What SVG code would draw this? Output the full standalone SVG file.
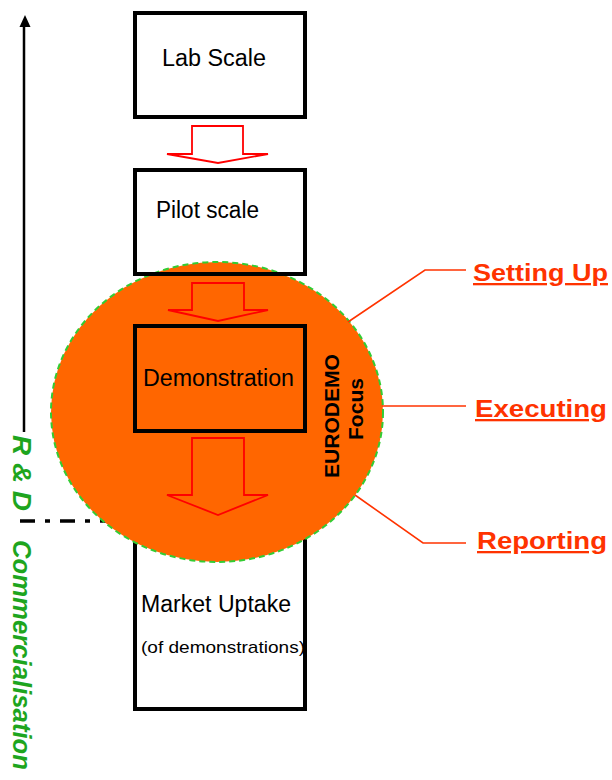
<svg xmlns="http://www.w3.org/2000/svg" width="612" height="780" viewBox="0 0 612 780">
<style>
.box{fill:none;stroke:#000;stroke-width:4}
.lbl{font-family:"Liberation Sans",Arial,sans-serif;font-size:23px;fill:#000}
.flow{fill:none;stroke:#ff0000;stroke-width:1.8;stroke-linejoin:miter}
.conn{fill:none;stroke:#ff3300;stroke-width:1.6}
.phase{font-family:"Liberation Sans",Arial,sans-serif;font-size:23px;font-weight:bold;fill:#ff3300;text-decoration:underline}
.axis{font-family:"Liberation Sans",Arial,sans-serif;font-size:26px;font-weight:bold;font-style:italic;fill:#1ea51e}
.focus{font-family:"Liberation Sans",Arial,sans-serif;font-size:21px;font-weight:bold;fill:#000}
</style>
<rect width="612" height="780" fill="#fff"/>

<g id="axis">
  <line x1="24" y1="26" x2="24" y2="432" stroke="#000" stroke-width="2.5"/>
  <polygon points="25,15 19.5,27 30.5,27" fill="#000"/>
  <line x1="20" y1="521" x2="116" y2="521" stroke="#000" stroke-width="3.5" stroke-dasharray="15 10 5 10"/>
  <text class="axis" transform="translate(13,473) rotate(90)" text-anchor="middle" textLength="76" lengthAdjust="spacingAndGlyphs">R &amp; D</text>
  <text class="axis" transform="translate(13,540) rotate(90)" textLength="230" lengthAdjust="spacingAndGlyphs">Commercialisation</text>
</g>

<g id="market">
  <rect class="box" x="135" y="490" width="170" height="219" stroke-width="3.5"/>
  <text class="lbl" x="141" y="612" textLength="150" lengthAdjust="spacingAndGlyphs">Market Uptake</text>
  <text class="lbl" x="141" y="653" style="font-size:17px" textLength="164" lengthAdjust="spacingAndGlyphs">(of demonstrations)</text>
</g>

<g id="lab">
  <rect class="box" x="135" y="13" width="170" height="104" fill="#fff"/>
  <text class="lbl" x="162" y="66" textLength="104" lengthAdjust="spacingAndGlyphs">Lab Scale</text>
</g>

<g id="focus">
  <ellipse cx="217" cy="412" rx="166" ry="150" fill="#ff6600" stroke="#33cc33" stroke-width="2" stroke-dasharray="6 4"/>
  <text class="focus" transform="translate(339,416) rotate(-90)" text-anchor="middle" textLength="124" lengthAdjust="spacingAndGlyphs">EURODEMO</text>
  <text class="focus" transform="translate(363,409) rotate(-90)" text-anchor="middle" textLength="62" lengthAdjust="spacingAndGlyphs">Focus</text>
</g>

<g id="pilot">
  <rect class="box" x="135" y="170" width="170" height="104"/>
  <text class="lbl" x="156" y="218" textLength="103" lengthAdjust="spacingAndGlyphs">Pilot scale</text>
</g>

<g id="demonstration">
  <rect class="box" x="135" y="326" width="170" height="105" stroke-width="3.5"/>
  <text class="lbl" x="143" y="386" textLength="151" lengthAdjust="spacingAndGlyphs">Demonstration</text>
</g>

<g id="connectors">
  <polygon class="flow" points="192,126 243,126 243,154 268,154 218,163 167,154 192,154" fill="#fff"/>
  <polygon class="flow" points="192,283 244,283 244,310 268,310 218,321 168,310 192,310"/>
  <polygon class="flow" points="192,438 244,438 244,495 268,495 218,515 167,495 192,495"/>
  <polyline class="conn" points="348,322 425,270 466,270"/>
  <polyline class="conn" points="382,406 466,406"/>
  <polyline class="conn" points="355,495 423,543 466,543"/>
</g>

<g id="setting-up">
  <text class="phase" x="473" y="281" textLength="135" lengthAdjust="spacingAndGlyphs">Setting Up</text>
</g>
<g id="executing">
  <text class="phase" x="475" y="417" textLength="132" lengthAdjust="spacingAndGlyphs">Executing</text>
</g>
<g id="reporting">
  <text class="phase" x="477" y="549" textLength="130" lengthAdjust="spacingAndGlyphs">Reporting</text>
</g>
</svg>
